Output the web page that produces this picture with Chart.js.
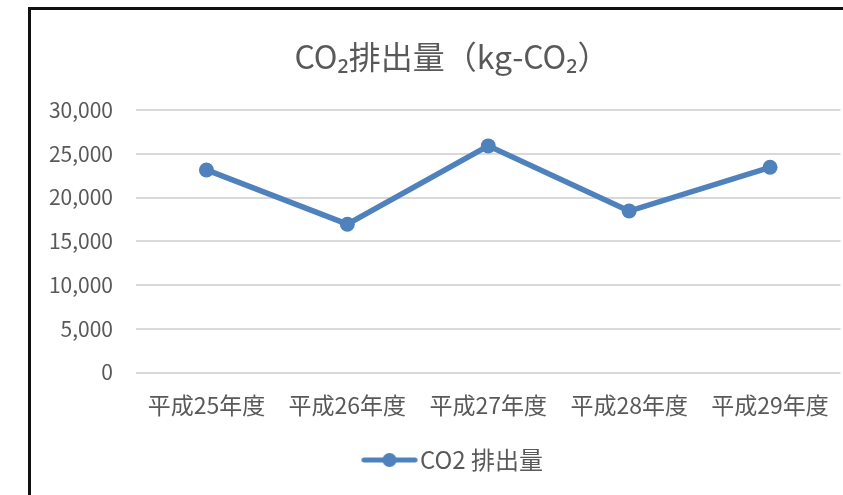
<!DOCTYPE html>
<html lang="ja">
<head>
<meta charset="utf-8">
<title>CO₂排出量</title>
<script src="https://cdn.jsdelivr.net/npm/chart.js@4/dist/chart.umd.min.js"></script>
<style>
  html, body { margin: 0; padding: 0; background: #fff; overflow: hidden; }
  #frame {
    position: absolute; left: 28px; top: 7px;
    width: 850px; height: 495px;
    border-left: 3px solid #111; border-top: 3px solid #111;
    background: #fff;
  }
  #wrap { position: absolute; left: 0; top: 0; width: 842px; height: 485px; }
</style>
</head>
<body>
<div id="frame"><div id="wrap"><canvas id="c"></canvas></div></div>
<script>
// Fiscal years (Heisei era)
const categories = ['平成25年度', '平成26年度', '平成27年度', '平成28年度', '平成29年度'];
// Annual CO2 emissions, kg-CO2
const emissions = [23150, 16950, 25900, 18450, 23450];
// Value axis range and step
const yMin = 0;
const yMax = 30000;
const yStep = 5000;

const seriesName = 'CO2 排出量';
const chartTitle = 'CO₂排出量（kg-CO₂）';

const BLUE = '#4F81BD';
const TEXT = '#595959';
const JP = '"Noto Sans CJK JP", "Noto Sans", sans-serif';

const CANVAS_W = 842;          // canvas runs past the right edge of the page
const LEGEND_FONT = 24;
const LEGEND_TEXT_X = 389;     // where the legend text starts, in canvas px
const MARK_LEN = 55;           // legend line length
const MARK_GAP = 3;            // gap between legend line and text

// Size the legend box so the text lands at LEGEND_TEXT_X when centred
const meas = document.createElement('canvas').getContext('2d');
meas.font = LEGEND_FONT + 'px ' + JP;
const legendTextW = meas.measureText(seriesName).width;
const centre = CANVAS_W / 2;
const boxW = Math.max(4, 2 * (LEGEND_TEXT_X - centre) - LEGEND_FONT / 2 + legendTextW);
const boxX = centre - (boxW + LEGEND_FONT / 2 + legendTextW) / 2;
const markCentre = boxX + boxW / 2;
const lineEnd = boxX + boxW + LEGEND_FONT / 2 - MARK_GAP;
const lineStart = lineEnd - MARK_LEN;
const half = Math.ceil(Math.max(Math.abs(lineStart - markCentre), Math.abs(lineEnd - markCentre))) + 8;

// Legend marker: a short line with a dot in the middle
const marker = document.createElement('canvas');
marker.width = half * 2; marker.height = 18;
(function () {
  const g = marker.getContext('2d');
  const off = markCentre - half;
  const a = lineStart - off, b = lineEnd - off;
  g.strokeStyle = BLUE; g.lineWidth = 5; g.lineCap = 'round';
  g.beginPath(); g.moveTo(a + 2, 9); g.lineTo(b - 2, 9); g.stroke();
  g.fillStyle = BLUE;
  g.beginPath(); g.arc((a + b) / 2, 9, 7, 0, Math.PI * 2); g.fill();
})();

new Chart(document.getElementById('c'), {
  type: 'line',
  data: {
    labels: categories,
    datasets: [{
      label: seriesName,
      data: emissions,
      borderColor: BLUE,
      backgroundColor: BLUE,
      borderWidth: 5.5,
      pointRadius: 7.5,
      pointBorderWidth: 0,
      pointBackgroundColor: BLUE,
      tension: 0,
      fill: false
    }]
  },
  options: {
    responsive: true,
    maintainAspectRatio: false,
    animation: false,
    events: [],
    layout: { padding: { left: 0, right: 0, top: 0, bottom: 13 } },
    plugins: {
      tooltip: { enabled: false },
      title: {
        display: true,
        text: chartTitle,
        color: TEXT,
        font: { family: JP, size: 32, weight: 'normal' },
        padding: { top: 27.8, bottom: 33.8 }
      },
      legend: {
        display: true,
        position: 'bottom',
        labels: {
          color: TEXT,
          font: { family: JP, size: LEGEND_FONT },
          usePointStyle: true,
          pointStyleWidth: boxW,
          padding: 10.9,
          generateLabels: (chart) => chart.data.datasets.map((ds, i) => ({
            text: ds.label,
            fontColor: TEXT,
            pointStyle: marker,
            lineWidth: 0,
            strokeStyle: 'transparent',
            fillStyle: BLUE,
            datasetIndex: i
          }))
        }
      }
    },
    scales: {
      x: {
        offset: true,
        grid: { display: false, drawTicks: false },
        border: { display: false },
        ticks: {
          color: TEXT,
          font: { family: JP, size: 23 },
          padding: 18.5,
          maxRotation: 0,
          autoSkip: false
        }
      },
      y: {
        min: yMin,
        max: yMax,
        grid: { color: '#d9d9d9', lineWidth: 2, drawTicks: false },
        border: { display: false },
        ticks: {
          stepSize: yStep,
          color: TEXT,
          font: { family: JP, size: 21 },
          padding: 23,
          callback: (v) => v.toLocaleString('en-US')
        },
        afterFit: (s) => { s.width = 105; }
      },
      // empty right-hand margin so the plot stops short of the canvas edge
      margin: {
        position: 'right',
        display: true,
        grid: { display: false, drawTicks: false },
        border: { display: false },
        ticks: { display: false },
        afterFit: (s) => { s.width = 32.5; }
      }
    }
  }
});
</script>
</body>
</html>
